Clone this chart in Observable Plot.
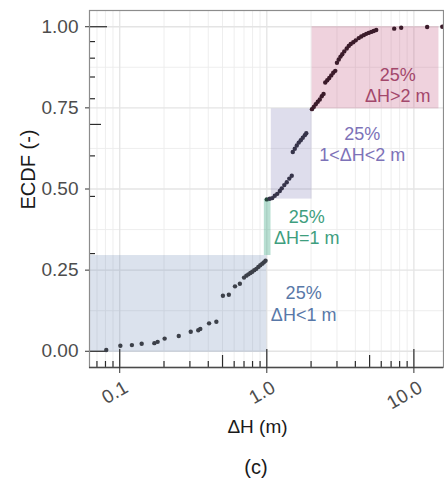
<!DOCTYPE html>
<html><head><meta charset="utf-8">
<script src="https://cdn.jsdelivr.net/npm/d3@7"></script>
<script src="https://cdn.jsdelivr.net/npm/@observablehq/plot@0.6"></script>
<style>
body{margin:0;background:#fff;font-family:"Liberation Sans",Arial,sans-serif;}
#wrap{position:relative;width:444px;height:488px;background:#fff;}
#cap{position:absolute;left:0;top:456px;width:512px;text-align:center;font-size:20px;line-height:22px;color:#1a1a1a;}
</style></head><body><div id="wrap"><div id="chart"></div><div id="cap">(c)</div></div>
<script>
// ---- data ----
const dH = [0.081,0.101,0.121,0.141,0.172,0.181,0.202,0.252,0.304,0.342,0.353,0.405,0.454,0.503,0.552,0.608,0.656,0.700,0.726,0.749,0.773,0.797,0.822,0.849,0.876,0.903,0.932,0.955,0.98,
  1.0,1.048,1.090,1.133,1.178,1.226,1.264,1.315,1.367,1.422,1.478,
  1.502,1.550,1.599,1.650,1.702,1.756,1.813,1.855,
  2.028,2.086,2.152,2.221,2.292,2.364,2.431,
  2.497,2.576,2.659,2.743,2.830,2.920,
  2.999,3.085,3.173,3.259,3.362,3.496,3.607,3.721,3.870,4.024,4.217,4.385,4.560,4.742,4.931,5.128,5.333,5.545,7.349,8.198,12.31,15.6];
const ecdf = [0.004,0.017,0.019,0.023,0.025,0.029,0.039,0.047,0.060,0.065,0.069,0.086,0.091,0.171,0.174,0.200,0.208,0.227,0.233,0.237,0.241,0.245,0.250,0.254,0.260,0.265,0.270,0.274,0.279,
  0.468,0.470,0.472,0.479,0.485,0.494,0.502,0.512,0.521,0.532,0.541,
  0.614,0.624,0.634,0.643,0.650,0.658,0.666,0.672,
  0.746,0.753,0.761,0.769,0.776,0.786,0.793,
  0.828,0.835,0.842,0.850,0.858,0.864,
  0.889,0.899,0.908,0.915,0.924,0.933,0.941,0.947,0.952,0.958,0.965,0.970,0.974,0.978,0.981,0.984,0.987,0.990,0.994,0.997,0.999,1.0];

// shaded classes
const classNames = ["lt1","eq1","mid","gt2"];
const classX1 = [0.05, 0.962, 1.073, 2.03];
const classX2 = [1.0, 1.068, 2.03, 14.8];
const classY1 = [-0.003, 0.295, 0.469, 0.747];
const classY2 = [0.295, 0.469, 0.747, 1.0];
const classLabel = ["25%\nΔH<1 m", "25%\nΔH=1 m", "25%\n1<ΔH<2 m", "25%\nΔH>2 m"];
const labelX = [1.78, 1.87, 4.46, 7.76];
const labelY = [0.148, 0.383, 0.639, 0.821];

const xTicks = [0.1, 1, 10];
const xTickLabels = ["0.1", "1.0", "10.0"];
const yTicks = [0, 0.25, 0.5, 0.75, 1];
const yTickLabels = ["0.00", "0.25", "0.50", "0.75", "1.00"];
const yMinor = [0.125, 0.375, 0.625, 0.875];
const logMult = [1,2,3,4,5,6,7,8,9];

// ---- styles ----
const fillCol = {lt1:"#5a7bab", eq1:"#4dae8e", mid:"#7b77b5", gt2:"#c2507a"};
const fillOp = {lt1:0.22, eq1:0.40, mid:0.25, gt2:0.26};
const textCol = {lt1:"#5878a8", eq1:"#3e9e7e", mid:"#7d72b8", gt2:"#a3476b"};
const dotCol = {lt1:"#3c4049", eq1:"#27473c", mid:"#36344a", gt2:"#3b1b2a"};

const xDomain = [0.0623, 15.9];
const yDomain = [-0.05, 1.05];
const W = 444, H = 445, mL = 89, mR = 1, mT = 10, mB = 78;
const fw = W - mL - mR, fh = H - mT - mB;

const cls = d => d < 1 ? "lt1" : d === 1 ? "eq1" : d < 2 ? "mid" : "gt2";
const pts = dH.map((d, i) => ({x: d, y: ecdf[i], c: cls(d)}));
const regions = classNames.map((c, i) => ({c, x1: classX1[i], x2: classX2[i], y1: classY1[i], y2: classY2[i], label: classLabel[i], lx: labelX[i], ly: labelY[i]}));

const xLog = [];
for (const e of [-2, -1, 0, 1]) for (const k of logMult) {
  const v = +(k * Math.pow(10, e)).toPrecision(3);
  if (v >= xDomain[0] && v <= xDomain[1]) xLog.push({v, k});
}
const xMinorGrid = xLog.filter(d => d.k !== 1).map(d => d.v);
const yLog = logMult.concat([10]).map(k => ({v: Math.log10(k), k}));

const tickLen = k => (k === 1 || k === 10) ? 18 : k === 5 ? 12 : 6;

const marks = [
  Plot.ruleX(xMinorGrid, {stroke: "#ececec", strokeWidth: 0.9}),
  Plot.ruleY(yMinor, {stroke: "#ececec", strokeWidth: 0.9}),
  Plot.ruleX(xTicks, {stroke: "#e4e4e4", strokeWidth: 1.3}),
  Plot.ruleY(yTicks, {stroke: "#e4e4e4", strokeWidth: 1.3}),
  Plot.rect(regions, {x1: "x1", x2: "x2", y1: "y1", y2: "y2", fill: d => fillCol[d.c], fillOpacity: d => fillOp[d.c], clip: true}),
];
for (const L of [6, 12, 18]) {
  marks.push(Plot.ruleX(xLog.filter(d => tickLen(d.k) === L), {x: "v", stroke: "#2b2b2b", strokeWidth: 1.2, insetTop: fh - L}));
  marks.push(Plot.ruleY(yLog.filter(d => tickLen(d.k) === L), {y: "v", stroke: "#2b2b2b", strokeWidth: 1.2, insetRight: fw - L}));
}
marks.push(
  Plot.dot(pts, {x: "x", y: "y", r: 2.2, fill: d => dotCol[d.c], stroke: "none", clip: true}),
  Plot.text(regions, {x: "lx", y: "ly", text: "label", fill: d => textCol[d.c], fontSize: 18, lineHeight: 1.17, textAnchor: "middle", lineAnchor: "middle"}),
  Plot.frame({stroke: "#8c8c8c", strokeWidth: 1.2}),
  Plot.ruleY([yDomain[0]], {stroke: "#4a4a4a", strokeWidth: 1.4}),
  Plot.axisY({ticks: yTicks, tickFormat: (d, i) => yTickLabels[yTicks.indexOf(d)], tickSize: 4, tickPadding: 7, fontSize: 19, color: "#4d4d4d", stroke: "#333", label: null}),
  Plot.axisX({ticks: xTicks, tickSize: 6, tickFormat: () => "", stroke: "#333", label: null}),
  Plot.text(xTicks, {x: d => d, text: (d, i) => xTickLabels[i], frameAnchor: "bottom", rotate: -30, textAnchor: "end", lineAnchor: "top", dx: 3, dy: 12, fontSize: 19, fill: "#4d4d4d"}),
  Plot.text(["ΔH (m)"], {frameAnchor: "bottom", text: d => d, dx: -9, dy: 59, lineAnchor: "middle", fontSize: 19, fill: "#1a1a1a"}),
  Plot.text(["ECDF (-)"], {frameAnchor: "left", y: () => 0.56, text: d => d, rotate: -90, dx: -61, textAnchor: "middle", lineAnchor: "middle", fontSize: 20, fill: "#1a1a1a"})
);

const chart = Plot.plot({
  width: W, height: H,
  marginLeft: mL, marginRight: mR, marginTop: mT, marginBottom: mB,
  x: {type: "log", domain: xDomain, axis: null},
  y: {domain: yDomain, axis: null},
  style: {fontFamily: "'Liberation Sans', Arial, sans-serif", background: "#fff", overflow: "visible"},
  marks
});
document.getElementById("chart").appendChild(chart);
</script></body></html>
